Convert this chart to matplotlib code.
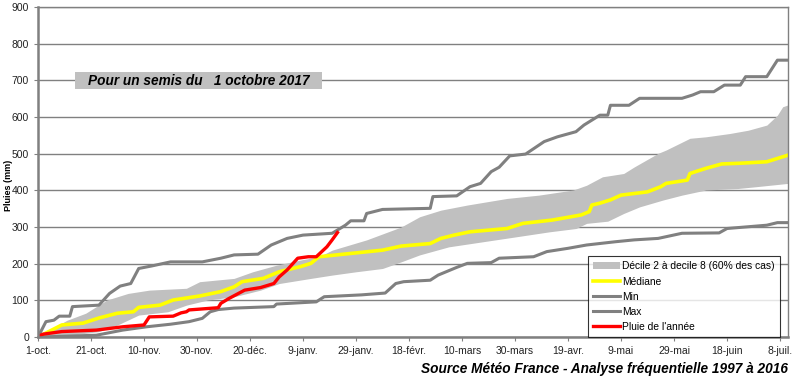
import matplotlib
matplotlib.use("Agg")
import matplotlib.pyplot as plt
from matplotlib.patches import Rectangle
import numpy as np

plt.rcParams['font.family'] = ['Liberation Sans', 'DejaVu Sans']

# days since 1 October
max_days = [0, 3, 6, 8, 12, 13, 23, 27, 31, 35, 38, 43, 50, 62, 69, 74, 83, 88, 94, 100,
            111, 116, 118, 123, 124, 130, 148, 149, 158, 163, 167, 171, 174, 178, 184, 191,
            196, 203, 206, 212, 215, 216, 223, 227, 243, 247, 250, 255, 259, 265, 267, 275,
            279, 283]
max_vals = [0, 42, 46, 57, 57, 83, 87, 119, 139, 146, 187, 194, 205, 205, 215, 224, 226, 251,
            269, 278, 283, 305, 317, 317, 337, 348, 351, 383, 385, 410, 419, 451, 463, 494,
            499, 533, 546, 560, 578, 605, 605, 632, 632, 651, 651, 660, 669, 669, 687, 687,
            710, 710, 755, 755]

min_days = [0, 22, 32, 41, 50, 57, 62, 65, 68, 74, 89, 90, 105, 108, 122, 131, 135, 138, 148,
            151, 154, 158, 162, 171, 174, 187, 192, 200, 207, 218, 225, 234, 243, 257, 260,
            275, 279, 283]
min_vals = [0, 5, 19, 28, 35, 42, 51, 69, 75, 79, 83, 90, 96, 110, 115, 120, 146, 151, 155,
            169, 178, 190, 201, 203, 215, 219, 233, 242, 251, 260, 265, 269, 283, 284, 296,
            305, 312, 312]

med_days = [0, 3, 9, 17, 23, 30, 36, 38, 46, 51, 61, 69, 74, 77, 85, 91, 99, 103, 106, 118,
            130, 137, 148, 152, 157, 163, 177, 183, 194, 205, 208, 209, 212, 216, 220, 230,
            235, 237, 245, 246, 252, 258, 265, 275, 279, 283]
med_vals = [0, 11, 33, 38, 52, 65, 69, 81, 87, 101, 112, 124, 137, 151, 160, 178, 192, 201,
            219, 228, 237, 248, 255, 269, 278, 287, 296, 310, 319, 333, 342, 360, 365, 374,
            387, 396, 410, 419, 428, 446, 460, 472, 474, 478, 487, 496]

d8_days = [0, 2, 11, 18, 26, 34, 42, 56, 61, 74, 81, 90, 99, 106, 111, 124, 137, 144, 152,
           162, 177, 189, 202, 207, 213, 221, 225, 234, 237, 246, 252, 261, 268, 275, 279,
           281, 283]
d8_vals = [0, 10, 46, 65, 101, 119, 128, 133, 151, 160, 178, 196, 210, 219, 237, 265, 300,
           328, 346, 360, 378, 387, 401, 414, 437, 446, 464, 501, 510, 542, 546, 555, 564,
           578, 605, 628, 633]

d2_days = [0, 8, 23, 30, 38, 49, 56, 64, 74, 84, 91, 103, 111, 120, 130, 137, 144, 155, 168,
           181, 193, 203, 207, 215, 221, 227, 236, 243, 252, 264, 271, 283]
d2_vals = [0, 1, 15, 33, 60, 69, 87, 101, 110, 128, 146, 160, 169, 178, 187, 205, 224, 246,
           260, 274, 287, 296, 310, 316, 337, 355, 374, 387, 401, 405, 410, 419]

rain_days = [0, 1, 2, 9, 22, 32, 40, 42, 51, 54, 56, 57, 68, 69, 72, 78, 84, 89, 91, 94, 98,
             102, 105, 109, 111, 113]
rain_vals = [0, 5, 8, 15, 19, 28, 33, 55, 57, 66, 69, 74, 80, 92, 105, 128, 135, 146, 164,
             183, 215, 219, 219, 246, 265, 285]

tick_days = list(range(0, 281, 20))
tick_labels = ['1-oct.', '21-oct.', '10-nov.', '30-nov.', '20-déc.', '9-janv.', '29-janv.',
               '18-févr.', '10-mars', '30-mars', '19-avr.', '9-mai', '29-mai', '18-juin',
               '8-juil.']

# the band is drawn on a shared day grid
band_days = sorted(set(d8_days) | set(d2_days))
band_hi = np.interp(band_days, d8_days, d8_vals)
band_lo = np.interp(band_days, d2_days, d2_vals)

fig = plt.figure(figsize=(8, 3.8), dpi=100)
ax = fig.add_axes([0.0475, 0.113, 0.9375, 0.8686])

grey = '#808080'
ax.set_axisbelow(True)
ax.yaxis.grid(True, color=grey, lw=1)

ax.fill_between(band_days, band_lo, band_hi, color='#c0c0c0', lw=0,
                label='Décile 2 à decile 8 (60% des cas)')
ax.plot(med_days, med_vals, color='#ffff00', lw=2.6, label='Médiane')
ax.plot(min_days, min_vals, color=grey, lw=2.2, label='Min')
ax.plot(max_days, max_vals, color=grey, lw=2.2, label='Max')
ax.plot(rain_days, rain_vals, color='#ff0000', lw=2.4, label="Pluie de l'année")

ax.set_xlim(0, 283)
ax.set_ylim(0, 900)
ax.set_yticks(range(0, 901, 100))
ax.set_xticks(tick_days)
ax.set_xticklabels(tick_labels)
ax.tick_params(labelsize=7.5, colors='#222222', length=3, color=grey)

for side in ['left', 'bottom']:
    ax.spines[side].set_color(grey)
    ax.spines[side].set_linewidth(1.8)
for side in ['top', 'right']:
    ax.spines[side].set_color(grey)
    ax.spines[side].set_linewidth(1)

fig.text(0.011, 0.513, 'Pluies (mm)', rotation=90, ha='center', va='center',
         fontsize=6.5, fontweight='bold')

ax.add_patch(Rectangle((0.049, 0.752), 0.33, 0.051, transform=ax.transAxes,
                       facecolor='#c0c0c0', edgecolor='none', zorder=3))
ax.text(0.214, 0.777, 'Pour un semis du   1 octobre 2017', transform=ax.transAxes,
        ha='center', va='center', fontsize=9.8, fontweight='bold', fontstyle='italic',
        zorder=4)

leg = ax.legend(loc='lower right', bbox_to_anchor=(0.989, 0.0), borderaxespad=0,
                fontsize=7.4, frameon=True, fancybox=False, edgecolor='black',
                handlelength=2.6, handletextpad=0.2, labelspacing=0.5,
                borderpad=0.5)
leg.get_frame().set_linewidth(0.8)
leg.set_zorder(5)

fig.text(0.985, 0.03, 'Source Météo France - Analyse fréquentielle 1997 à 2016',
         ha='right', va='center', fontsize=9.8, fontweight='bold', fontstyle='italic')

fig.savefig('out.png', dpi=100)
